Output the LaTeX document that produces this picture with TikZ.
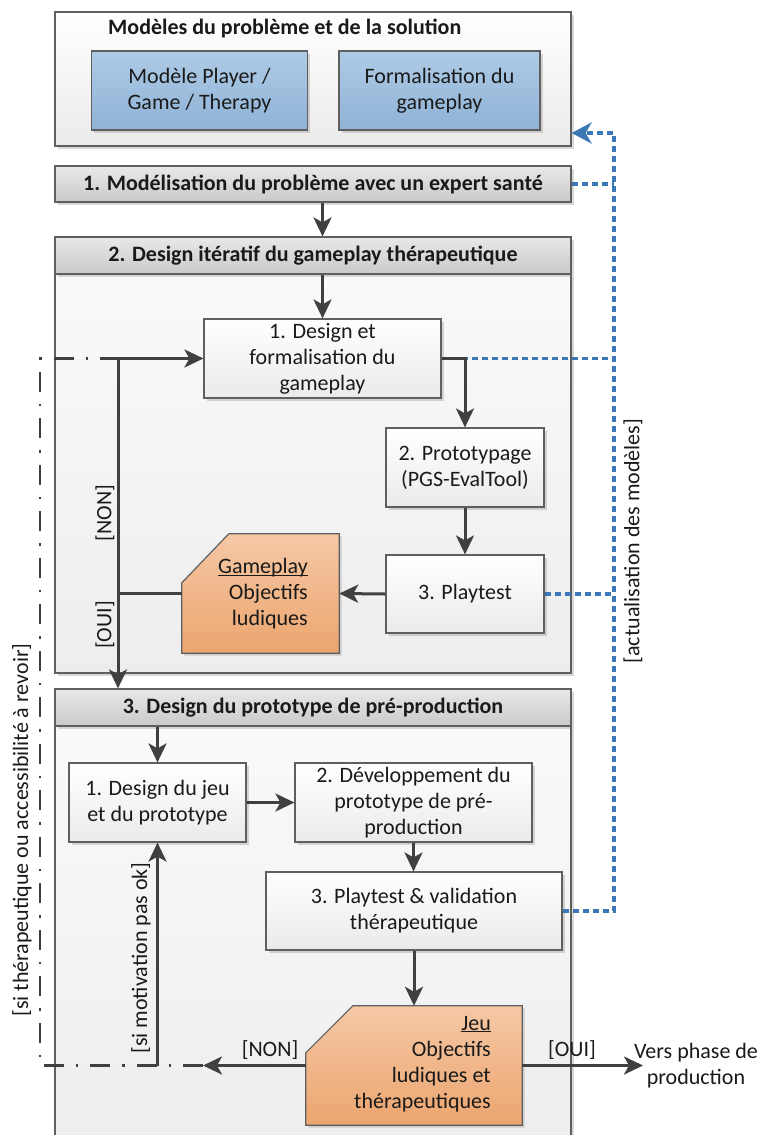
\documentclass[tikz,border=0pt]{standalone}
\usepackage{fontspec}
\setmainfont{Carlito}
\usetikzlibrary{arrows.meta,shadows,calc}
\definecolor{lineg}{HTML}{404040}
\definecolor{bdr}{HTML}{5F5F5F}
\definecolor{dblue}{HTML}{3B78B5}
\definecolor{blueT}{HTML}{AECBE6}
\definecolor{blueB}{HTML}{8FB2D6}
\definecolor{orT}{HTML}{F5C8A5}
\definecolor{orB}{HTML}{ECA56F}
\definecolor{txt}{HTML}{1A1A1A}
\newcommand\nsz{\fontsize{22}{26}\selectfont}
\newcommand\ulword[1]{\underline{\raisebox{0pt}[\height][0pt]{#1}}}
\tikzset{
 shad/.style={drop shadow={shadow xshift=2.5pt,shadow yshift=-2.5pt,opacity=0.3,fill=black!50}},
 frame/.style={draw=bdr,line width=1.2pt,inner sep=0pt,align=center,font=\nsz,text=txt},
 whitebox/.style={frame,shad,top color=white,bottom color=black!8},
 headbar/.style={frame,shad,top color=black!9,bottom color=black!21,font=\nsz\bfseries},
 bodybox/.style={frame,shad,top color=black!2,bottom color=black!7},
 bluebox/.style={frame,shad,top color=blueT,bottom color=blueB},
 orangeshape/.style={draw=bdr,line width=1.2pt,shad,top color=orT,bottom color=orB},
 conn/.style={draw=lineg,line width=3pt},
 arr/.style={conn,-{Stealth[length=19pt,width=18pt,inset=5pt]}},
 upd/.style={draw=dblue,line width=3.6pt,dash pattern=on 6pt off 4pt},
 updarr/.style={upd,-{Stealth[length=20pt,width=21pt,inset=6pt]}},
 revoir/.style={draw=lineg,line width=2.4pt,dash pattern=on 20pt off 12pt on 2.5pt off 12pt},
 lbl/.style={font=\nsz,text=txt,inner sep=0pt},
}
\begin{document}
\begin{tikzpicture}[x=1pt,y=-1pt]
\clip (0,0) rectangle (761,1135);
\fill[white] (0,0) rectangle (761,1135);
% models box
\node[whitebox,minimum width=516,minimum height=134] (models) at (313,79) {};
\node[lbl,font=\nsz\bfseries,anchor=west] (mtitle) at (108,28) {Modèles du problème et de la solution};
\node[bluebox,minimum width=216,minimum height=79] (mpgt) at (199.5,90.5) {Modèle Player /\\Game / Therapy};
\node[bluebox,minimum width=201,minimum height=79] (mform) at (439.5,90.5) {Formalisation du\\gameplay};
\node[headbar,minimum width=516,minimum height=36] (bar1) at (313,184) {1. Modélisation du problème avec un expert santé};
% section 2
\node[bodybox,minimum width=516,minimum height=399] (body2) at (313,473.5) {};
\node[headbar,minimum width=516,minimum height=37] (hdr2) at (313,255.5) {2. Design itératif du gameplay thérapeutique};
\node[whitebox,minimum width=237,minimum height=79] (d1) at (322.5,358.5) {1. Design et\\formalisation du\\gameplay};
\node[whitebox,minimum width=158,minimum height=79] (p2) at (465,467.5) {2. Prototypage\\(PGS-EvalTool)};
\node[whitebox,minimum width=158,minimum height=78] (pt) at (465,594) {3. Playtest};
\node[minimum width=157,minimum height=119,inner sep=0pt] (gp) at (260.5,593.5) {};
\path[orangeshape] (gp.south west) -- ($(gp.north west)+(0,49)$) -- ($(gp.north west)+(47,0)$) -- (gp.north east) -- (gp.south east) -- cycle;
\node[lbl,anchor=east,align=right] (gptxt) at (308,594) {\ulword{Gameplay}\\Objectifs\\ludiques};
% section 3
\node[bodybox,minimum width=516,minimum height=419] (body3) at (313,935.5) {};
\node[headbar,minimum width=516,minimum height=37] (hdr3) at (313,707.5) {3. Design du prototype de pré-production};
\node[whitebox,minimum width=177,minimum height=79] (j1) at (157.5,802.5) {1. Design du jeu\\et du prototype};
\node[whitebox,minimum width=237,minimum height=79] (dv) at (413.5,802.5) {2. Développement du\\prototype de pré-\\production};
\node[whitebox,minimum width=296,minimum height=78] (pv) at (414,911) {3. Playtest \& validation\\thérapeutique};
\node[minimum width=216,minimum height=119,inner sep=0pt] (jeu) at (414,1065.5) {};
\path[orangeshape] (jeu.south west) -- ($(jeu.north west)+(0,47)$) -- ($(jeu.north west)+(47,0)$) -- (jeu.north east) -- (jeu.south east) -- cycle;
\node[lbl,anchor=east,align=right] (jeutxt) at (491,1064) {\ulword{Jeu}\\Objectifs\\ludiques et\\thérapeutiques};
% coordinates
\coordinate (bt) at (614,133);
\coordinate (sp) at (118,593.5);
\coordinate (nonend) at (203,1065.5);
\coordinate (mot) at (157.5,1065.5);
\coordinate (rl) at (40,1065.5);
\coordinate (rt) at (40,358.5);
\coordinate (vtip) at (643,1065.5);
% blue update lines
\draw[upd] (bar1.east) -- (bar1.east -| bt);
\draw[upd] (d1.east) -- (d1.east -| bt);
\draw[upd] (pt.east) -- (pt.east -| bt);
\draw[updarr] (pv.east) -| (bt) -- (models.east |- bt);
% revoir loop
\draw[revoir] (nonend) -- (rl) -- (rt) -- (sp |- rt);
% grey connectors
\draw[arr] (d1.north |- bar1.south) -- (d1.north |- hdr2.north);
\draw[arr] (d1.north |- hdr2.south) -- (d1.north);
\draw[arr] (d1.east) -| (p2.north);
\draw[arr] (p2.south) -- (pt.north);
\draw[arr] (pt.west) -- (gp.east);
\draw[conn] (gp.west) -- (sp);
\draw[arr] (sp) |- (d1.west);
\draw[arr] (sp) -- (sp |- hdr3.north);
\draw[arr] (j1.north |- hdr3.south) -- (j1.north);
\draw[arr] (j1.east) -- (dv.west);
\draw[arr] (dv.south) -- (dv.south |- pv.north);
\draw[arr] (pv.south) -- (jeu.north);
\draw[arr] (jeu.west) -- (nonend);
\draw[arr] (mot) -- (j1.south);
\draw[arr] (jeu.east) -- (vtip);
% labels
\node[lbl] (nonB) at (270,1050) {[NON]};
\node[lbl] (ouiB) at (572,1050) {[OUI]};
\node[lbl,align=center] (vers) at (696,1066) {Vers phase de\\production};
\node[lbl,rotate=90] (non2) at (105,513) {[NON]};
\node[lbl,rotate=90] (oui2) at (105,625) {[OUI]};
\node[lbl,rotate=90] (motl) at (141,958) {[si motivation pas ok]};
\node[lbl,rotate=90] (revl) at (22,830) {[si thérapeutique ou accessibilité à revoir]};
\node[lbl,rotate=90] (actl) at (633,541) {[actualisation des modèles]};
\end{tikzpicture}
\end{document}
